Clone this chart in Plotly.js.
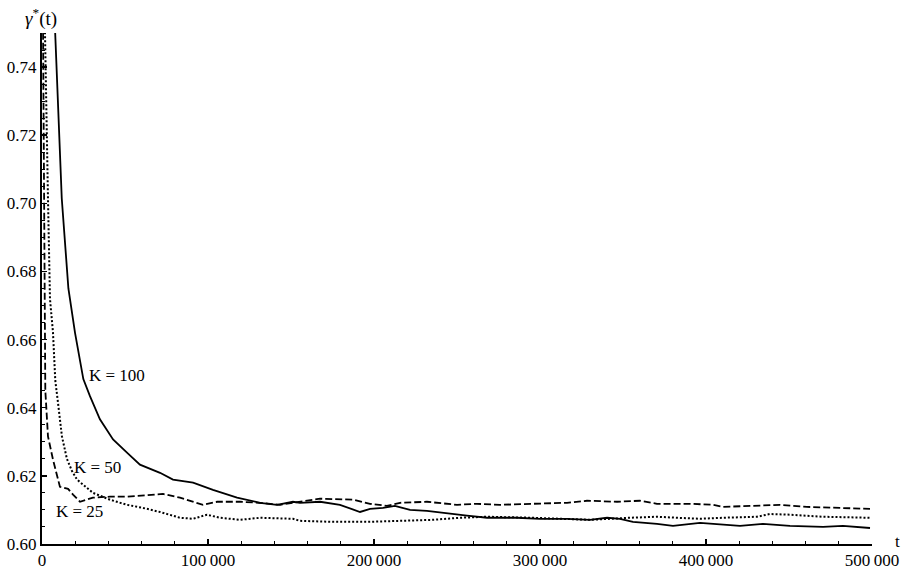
<!DOCTYPE html>
<html>
<head>
<meta charset="utf-8">
<script src="https://cdn.plot.ly/plotly-3.0.1.min.js"></script>
<style>html,body{margin:0;padding:0;background:#fff;}#chart{width:907px;height:572px;}</style>
</head>
<body>
<div id="chart"></div>
<script>
// K = 100 (solid)
const t100 = [5500, 7800, 11900, 15900, 19900, 24900, 28900, 34900, 42800, 51200, 59000, 71100, 78900, 91000, 103000, 117500, 131300, 141600, 151200, 155400, 167500, 179500, 191600, 197600, 205400, 212600, 221700, 231900, 241600, 256000, 268100, 275900, 286100, 300000, 316300, 330100, 340400, 348200, 356000, 370500, 380100, 396400, 410200, 420500, 434300, 450600, 470500, 482500, 498800];
const g100 = [0.78, 0.75, 0.7015, 0.675, 0.662, 0.6484, 0.6434, 0.6366, 0.6307, 0.6268, 0.6233, 0.6209, 0.6189, 0.6180, 0.6159, 0.6136, 0.6121, 0.6115, 0.6124, 0.6121, 0.6124, 0.6115, 0.6094, 0.6103, 0.6106, 0.6112, 0.6100, 0.6097, 0.6091, 0.6083, 0.6077, 0.6077, 0.6077, 0.6074, 0.6074, 0.6071, 0.6077, 0.6074, 0.6065, 0.6059, 0.6053, 0.6062, 0.6056, 0.6053, 0.6059, 0.6053, 0.6050, 0.6053, 0.6047];

// K = 50 (dotted)
const t50 = [0, 1800, 3600, 4800, 6600, 8000, 9600, 12000, 15000, 18000, 21100, 30700, 41000, 51200, 60800, 71100, 83100, 91000, 99400, 107200, 119300, 131300, 151200, 155400, 175300, 195800, 215700, 235500, 251800, 268100, 295800, 316300, 330100, 354200, 370500, 382500, 396400, 410200, 430700, 438500, 450600, 470500, 490900, 498800];
const g50 = [0.85, 0.75, 0.7015, 0.672, 0.6622, 0.648, 0.6416, 0.6316, 0.625, 0.6215, 0.6189, 0.6150, 0.6130, 0.6115, 0.6106, 0.6094, 0.6077, 0.6074, 0.6086, 0.6077, 0.6071, 0.6077, 0.6074, 0.6068, 0.6065, 0.6065, 0.6068, 0.6071, 0.6077, 0.6080, 0.6077, 0.6074, 0.6071, 0.6077, 0.6080, 0.6077, 0.6074, 0.6077, 0.6080, 0.6088, 0.6086, 0.6080, 0.6077, 0.6077];

// K = 25 (dashed)
const t25 = [0, 1000, 1500, 2000, 3600, 6600, 10800, 15700, 18700, 22900, 30700, 41000, 51200, 65100, 72900, 83100, 97000, 105400, 119300, 131300, 143400, 151200, 167500, 187300, 197600, 207800, 215700, 231900, 250000, 262000, 275900, 295800, 316300, 328300, 346400, 360200, 370500, 390400, 404200, 410200, 430700, 444600, 460800, 480700, 492700, 498800];
const g25 = [0.80, 0.70, 0.68, 0.645, 0.6316, 0.6248, 0.6168, 0.6162, 0.6145, 0.6124, 0.6136, 0.6139, 0.6139, 0.6145, 0.6147, 0.6136, 0.6115, 0.6124, 0.6124, 0.6121, 0.6115, 0.6121, 0.6133, 0.6130, 0.6118, 0.6112, 0.6121, 0.6124, 0.6115, 0.6118, 0.6115, 0.6118, 0.6121, 0.6127, 0.6124, 0.6127, 0.6118, 0.6118, 0.6115, 0.6109, 0.6112, 0.6115, 0.6109, 0.6106, 0.6106, 0.6103];

const xTickVals = [0, 100000, 200000, 300000, 400000, 500000];
const xTickText = ['0', '100\u2009000', '200\u2009000', '300\u2009000', '400\u2009000', '500\u2009000'];
const yTickVals = [0.60, 0.62, 0.64, 0.66, 0.68, 0.70, 0.72, 0.74];
const yTickText = ['0.60', '0.62', '0.64', '0.66', '0.68', '0.70', '0.72', '0.74'];
const seriesLabels = ['K = 100', 'K = 50', 'K = 25'];

const FONT = 'Liberation Serif';

const traces = [
  {x: t25, y: g25, mode: 'lines', line: {color: '#000', width: 1.8, dash: '7px,3px'}, name: seriesLabels[2]},
  {x: t50, y: g50, mode: 'lines', line: {color: '#000', width: 2, dash: '2px,2px'}, name: seriesLabels[1]},
  {x: t100, y: g100, mode: 'lines', line: {color: '#000', width: 1.8}, name: seriesLabels[0]}
];

const layout = {
  width: 907, height: 572,
  margin: {l: 42, r: 35, t: 33, b: 28, pad: 0},
  paper_bgcolor: '#fff', plot_bgcolor: '#fff',
  showlegend: false,
  font: {family: FONT, size: 17, color: '#000'},
  xaxis: {
    range: [0, 500000], showgrid: false, zeroline: false,
    showline: true, linecolor: '#000', linewidth: 2,
    ticks: 'inside', ticklen: 5, tickwidth: 1.5, tickcolor: '#000',
    tickvals: xTickVals, ticktext: xTickText,
    tickfont: {family: FONT, size: 17, color: '#000'},
    minor: {dtick: 20000, tick0: 0, ticks: 'inside', ticklen: 3, tickwidth: 1, tickcolor: '#000', showgrid: false}
  },
  yaxis: {
    range: [0.60, 0.75], showgrid: false, zeroline: false,
    showline: true, linecolor: '#000', linewidth: 2,
    ticks: 'inside', ticklen: 5, tickwidth: 1.5, tickcolor: '#000',
    tickvals: yTickVals, ticktext: yTickText,
    tickfont: {family: FONT, size: 17, color: '#000'},
    minor: {dtick: 0.005, tick0: 0.60, ticks: 'inside', ticklen: 3, tickwidth: 1, tickcolor: '#000', showgrid: false}
  },
  annotations: [
    {xref: 'x', yref: 'y', x: 27700, y: 0.6496, text: seriesLabels[0], showarrow: false, xanchor: 'left', yanchor: 'middle', font: {family: FONT, size: 17, color: '#000'}, borderpad: 0},
    {xref: 'x', yref: 'y', x: 18700, y: 0.6224, text: seriesLabels[1], showarrow: false, xanchor: 'left', yanchor: 'middle', font: {family: FONT, size: 17, color: '#000'}, borderpad: 0},
    {xref: 'x', yref: 'y', x: 7800, y: 0.6094, text: seriesLabels[2], showarrow: false, xanchor: 'left', yanchor: 'middle', font: {family: FONT, size: 17, color: '#000'}, borderpad: 0},
    {xref: 'paper', yref: 'paper', x: -0.0217, y: 1.031, text: '<i>γ</i><sup>*</sup>(t)', showarrow: false, xanchor: 'left', yanchor: 'middle', font: {family: FONT, size: 19, color: '#000'}, borderpad: 0},
    {xref: 'paper', yref: 'paper', x: 1.027, y: 0.004, text: 't', showarrow: false, xanchor: 'left', yanchor: 'middle', font: {family: FONT, size: 17, color: '#000'}, borderpad: 0}
  ]
};

Plotly.newPlot('chart', traces, layout, {staticPlot: true, displayModeBar: false});
</script>
</body>
</html>
